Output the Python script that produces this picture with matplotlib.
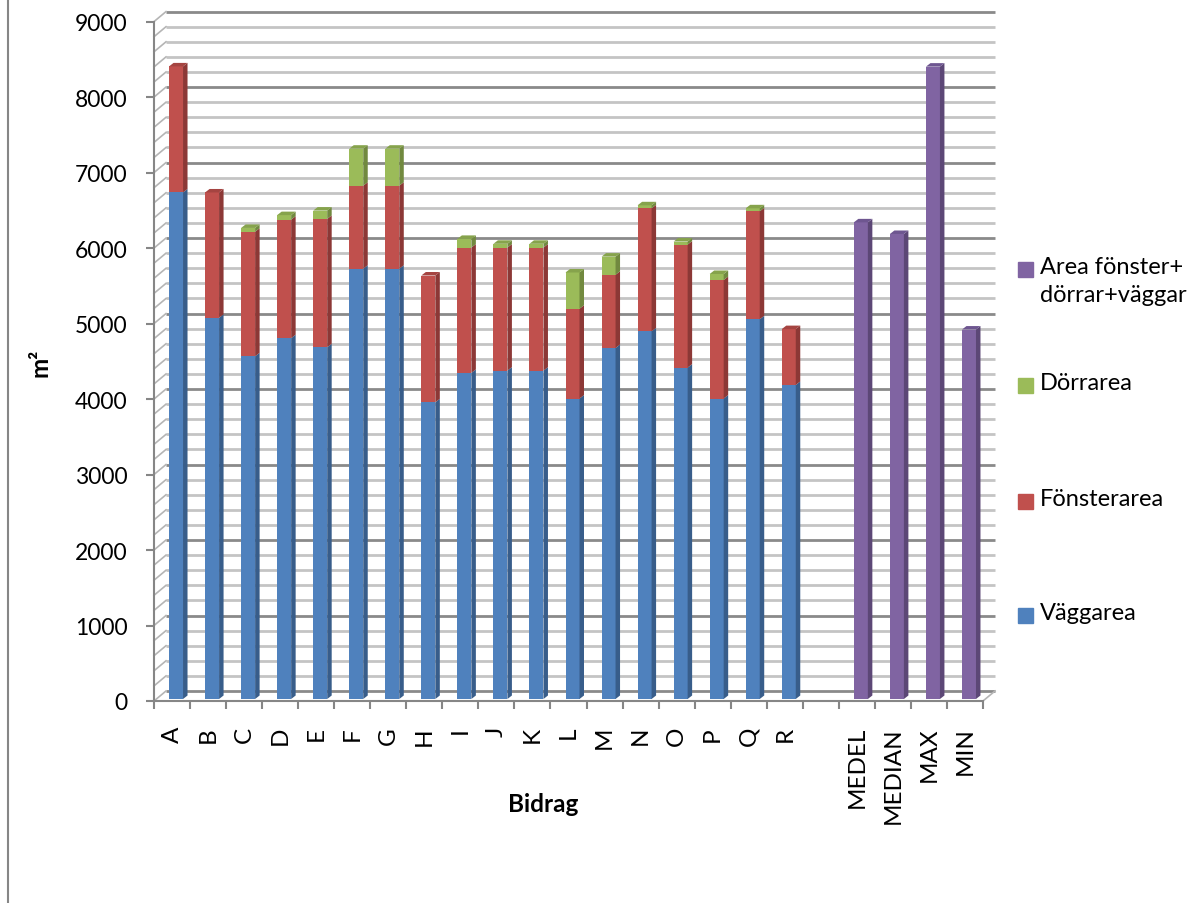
import matplotlib.pyplot as plt
from matplotlib.lines import Line2D
from matplotlib.patches import Rectangle
from matplotlib.transforms import ScaledTranslation

plt.rcParams["font.family"] = ["Lato", "DejaVu Sans"]

# stacked areas per contribution
categories = ["A", "B", "C", "D", "E", "F", "G", "H", "I", "J", "K", "L", "M", "N", "O", "P", "Q", "R"]
vaggarea = [6710, 5050, 4540, 4780, 4660, 5700, 5700, 3930, 4320, 4350, 4350, 3980, 4650, 4870, 4390, 3980, 5030, 4160]
fonsterarea = [1670, 1660, 1650, 1570, 1700, 1100, 1100, 1680, 1660, 1630, 1630, 1190, 970, 1630, 1630, 1570, 1430, 740]
dorrarea = [0, 0, 50, 60, 110, 490, 490, 0, 115, 50, 50, 480, 240, 40, 40, 80, 40, 0]

# summary columns (total area)
summary_labels = ["MEDEL", "MEDIAN", "MAX", "MIN"]
summary_total = [6314, 6160, 8377, 4894]

tick_labels = categories + [""] + summary_labels
n_cat = len(tick_labels)

colors = {
    "blue": ("#4F81BD", "#385D8A", "#4470A6"),
    "red": ("#C0504D", "#8C3836", "#A54441"),
    "green": ("#9BBB59", "#71893F", "#86A34C"),
    "purple": ("#8064A2", "#5C4776", "#6E5690"),
}

W, H = 1203, 904
fig = plt.figure(figsize=(W / 100, H / 100), dpi=100)

# front plane of the plot in pixels
x0, x1 = 154, 983
y0, y9000 = 702, 22.6
ax = fig.add_axes([x0 / W, (H - y0) / H, (x1 - x0) / W, (y0 - y9000) / H])
ax.set_xlim(0, n_cat)
ax.set_ylim(0, 9000)
ax.patch.set_visible(False)

px_x = n_cat / (x1 - x0)
px_y = 9000 / (y0 - y9000)

# depth offsets (back wall and bar faces)
back_dx, back_dy = 12 * px_x, 10 * px_y
side_dx, side_dy = 4.5 * px_x, 3.5 * px_y

# back wall gridlines and side wall slants
for v in range(0, 9001, 200):
    major = v % 1000 == 0
    ax.plot([back_dx, n_cat + back_dx], [v + back_dy, v + back_dy],
            color="#8a8a8a" if major else "#c4c4c4", lw=2, zorder=0.5, clip_on=False,
            solid_capstyle="butt")
    ax.plot([0, back_dx], [v, v + back_dy], color="#b5b5b5", lw=1.2, zorder=0.6, clip_on=False)
ax.plot([n_cat, n_cat + back_dx], [0, back_dy], color="#b5b5b5", lw=1.2, zorder=0.6, clip_on=False)

bar_tr = ax.transData + ScaledTranslation(0.04, 0.02, fig.dpi_scale_trans)
bar_w = 14 * px_x


def draw_segment(xc, bottom, height, cname, top):
    front, side, cap = colors[cname]
    if height <= 0:
        return
    ax.bar([xc], [height], bottom=[bottom], width=bar_w, color=front, zorder=2,
           transform=bar_tr, clip_on=False)
    xr = xc + bar_w / 2
    xl = xc - bar_w / 2
    ax.fill([xr, xr, xr + side_dx, xr + side_dx],
            [bottom, bottom + height, bottom + height + side_dy, bottom + side_dy],
            color=side, zorder=2, transform=bar_tr, clip_on=False, lw=0)
    if top:
        t = bottom + height
        ax.fill([xl, xr, xr + side_dx, xl + side_dx], [t, t, t + side_dy, t + side_dy],
                color=cap, zorder=2, transform=bar_tr, clip_on=False, lw=0)


for i in range(len(categories)):
    xc = i + 0.5
    b = vaggarea[i]
    f = fonsterarea[i]
    d = dorrarea[i]
    draw_segment(xc, 0, b, "blue", False)
    draw_segment(xc, b, f, "red", d == 0)
    draw_segment(xc, b + f, d, "green", True)

for j, val in enumerate(summary_total):
    xc = len(categories) + 1 + j + 0.5
    draw_segment(xc, 0, val, "purple", True)

# axes styling
for s in ["top", "right"]:
    ax.spines[s].set_visible(False)
for s in ["left", "bottom"]:
    ax.spines[s].set_color("#868686")
    ax.spines[s].set_linewidth(1.5)

ax.set_yticks(range(0, 9001, 1000))
ax.tick_params(axis="y", direction="out", length=6, width=1.5, color="#868686",
               labelsize=16.5, pad=13)
ax.set_xticks([i + 0.5 for i in range(n_cat)])
ax.set_xticklabels(tick_labels, rotation=90, va="top", ha="center")
ax.set_xticks(range(n_cat + 1), minor=True)
ax.tick_params(axis="x", which="major", length=0, labelsize=17.5, pad=18)
ax.tick_params(axis="x", which="minor", direction="out", length=6, width=1.5, color="#868686")

fig.text(40 / W, 1 - 363 / H, "m²", rotation=90, ha="center", va="center",
         fontsize=17.5, fontweight="bold")
fig.text(543 / W, 1 - 805 / H, "Bidrag", ha="center", va="center",
         fontsize=17.5, fontweight="bold")

# legend entries
legend_items = [
    ("Area fönster+\ndörrar+väggar", colors["purple"][0], 270),
    ("Dörrarea", colors["green"][0], 386),
    ("Fönsterarea", colors["red"][0], 502),
    ("Väggarea", colors["blue"][0], 616),
]
for label, col, yc in legend_items:
    fig.add_artist(Rectangle((1018 / W, 1 - (yc + 7.5) / H), 15 / W, 15 / H,
                             transform=fig.transFigure, color=col))
    fig.text(1040 / W, 1 - (yc - 13) / H, label, ha="left", va="top", fontsize=17,
             linespacing=1.4)

# chart frame edge
fig.add_artist(Line2D([8 / W, 8 / W], [0, 1], transform=fig.transFigure, color="#868686", lw=1.5))

fig.savefig("out.png", dpi=100)
